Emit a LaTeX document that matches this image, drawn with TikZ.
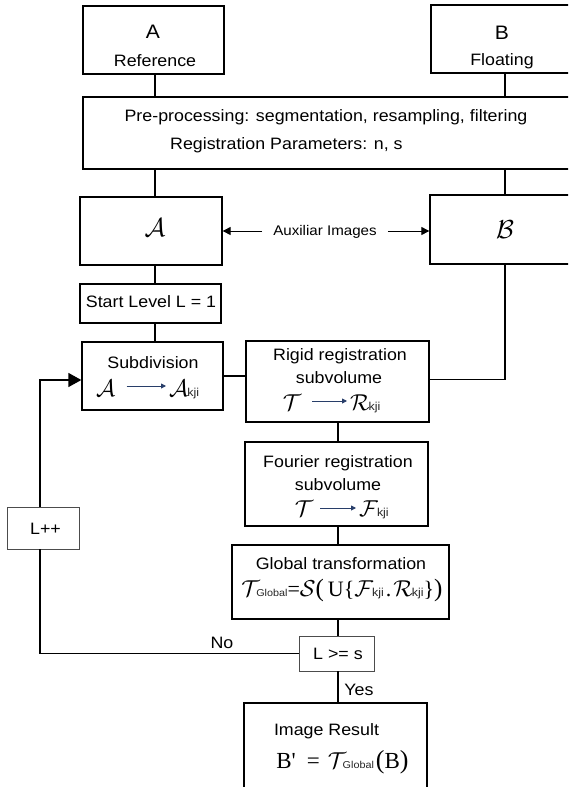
\RequirePackage{fix-cm}
\documentclass[tikz,border=0pt]{standalone}
\usepackage{fontspec}
\setmainfont[FakeStretch=1.08]{Liberation Sans}
\newfontfamily\serif{Liberation Serif}
\usepackage{graphicx}
\usetikzlibrary{arrows.meta}
\definecolor{arrowblue}{RGB}{40,62,105}
\newcommand{\fs}[1]{\fontsize{#1}{#1}\selectfont}
\newcommand{\scrL}[2][24]{{\fs{#1}$\mathcal{#2}$}}
\newcommand{\lowsub}[2][11.5]{\kern-1pt\raisebox{-0.5pt}{\fs{#1}\color{black!85}#2}}
\newcommand{\tms}[2][22]{{\serif\fs{#1}#2}}
\begin{document}
\begin{tikzpicture}[x=1pt,y=-1pt,
  box/.style={draw,line width=1.3pt,inner sep=0pt},
  thinbox/.style={draw=black!70,line width=0.9pt,inner sep=0pt},
  txt/.style={inner sep=0pt,anchor=base,font=\fs{16.5}},
  sym/.style={inner sep=0pt,anchor=base},
  conn/.style={line width=1.3pt},
  barrow/.style={draw=arrowblue,line width=0.9pt,-{Triangle[length=5pt,width=5pt]}},
  auxarrow/.style={line width=1pt,-{Triangle[length=8pt,width=8pt]}}]
\useasboundingbox (0,0) rectangle (568,787);
\fill[white] (0,0) rectangle (568,787);
\clip (0,0) rectangle (568,787);

% x positions of vertical connectors
\coordinate (xa) at (155,0);
\coordinate (xb) at (505,0);
\coordinate (xm) at (338,0);
\coordinate (loopx) at (40,0);

% boxes
\node[box,minimum width=141pt,minimum height=68pt] (boxA) at (153.5,40) {};
\node[box,minimum width=148pt,minimum height=68pt] (boxB) at (505,39) {};
\node[box,minimum width=497pt,minimum height=72pt] (pre) at (331.5,133) {};
\node[box,minimum width=142pt,minimum height=68pt] (cA) at (151,231) {};
\node[box,minimum width=150pt,minimum height=69pt] (cB) at (505,229.5) {};
\node[box,minimum width=141pt,minimum height=39pt] (start) at (150.5,303.5) {};
\node[box,minimum width=141pt,minimum height=68pt] (sub) at (152.5,376) {};
\node[box,minimum width=183pt,minimum height=81pt] (rigid) at (337.5,381.5) {};
\node[box,minimum width=183pt,minimum height=84pt] (four) at (336.5,484) {};
\node[box,minimum width=217pt,minimum height=74pt] (glob) at (340.5,582) {};
\node[thinbox,minimum width=75pt,minimum height=35pt] (cond) at (336.5,653.5) {};
\node[thinbox,minimum width=72pt,minimum height=42pt] (lpp) at (43,528) {};
\node[box,minimum width=183pt,minimum height=97pt] (res) at (335.5,751.5) {};

% texts
\node[txt,font=\fs{19.5}] (tA) at (153,38.5) {A};
\node[txt] (tRef) at (155,66) {Reference};
\node[txt,font=\fs{19.5}] (tB) at (502,39) {B};
\node[txt] (tFl) at (502,65) {Floating};
\node[txt] (tPre1) at (326,121.5) {Pre-processing: segmentation, resampling, filtering};
\node[txt,anchor=base west] (tPre2) at (170,149.5) {Registration Parameters: n, s};
\node[sym] (tcA) at (155,236.5) {\scrL[26]{A}};
\node[sym] (tcB) at (505,238.5) {\scrL[26]{B}};
\node[txt,font=\fs{14},inner xsep=11pt] (aux) at (325,235.5) {Auxiliar Images};
\node[txt] (tStart) at (151,307.7) {Start Level L = 1};
\node[txt] (tSub) at (153,368.3) {Subdivision};
\node[txt] (tRig1) at (340,360.7) {Rigid registration};
\node[txt] (tRig2) at (339,383.3) {subvolume};
\node[txt] (tFou1) at (338,467.7) {Fourier registration};
\node[txt] (tFou2) at (338,490) {subvolume};
\node[txt] (tGlob) at (341,569.3) {Global transformation};
\node[txt] (tL) at (45.5,534.3) {L++};
\node[txt] (tCond) at (338,659.3) {L >= s};
\node[txt] (tNo) at (222,648.3) {No};
\node[txt] (tYes) at (359,695) {Yes};
\node[txt] (tRes) at (326.5,735) {Image Result};

% formulas
\node[sym,anchor=base west] (fS1) at (96,396) {\scrL{A}};
\node[sym,anchor=base west] (fS2) at (169,396) {\scrL{A}\lowsub{kji}};
\draw[barrow,shorten <=11pt,shorten >=3pt] ([yshift=10pt]fS1.base east) -- ([yshift=10pt]fS2.base west);

\node[sym] (fR1) at (292,410) {\scrL[23]{T}};
\node[sym,anchor=base west] (fR2) at (350,410) {\scrL[23]{R}\lowsub{kji}};
\draw[barrow,shorten <=11pt,shorten >=3pt] ([yshift=9pt]fR1.base east) -- ([yshift=9pt]fR2.base west);

\node[sym] (fF1) at (304,516) {\scrL[23]{T}};
\node[sym,anchor=base west] (fF2) at (359,516) {\scrL[23]{F}\lowsub{kji}};
\draw[barrow,shorten <=7pt,shorten >=3pt] ([yshift=8pt]fF1.base east) -- ([yshift=8pt]fF2.base west);

\node[sym] (fG) at (342,596) {\scrL[23]{T}\kern-2.5pt\lowsub[10]{Global}\tms{=}\scrL[23]{S}\tms[25]{(}\hspace{4pt}\tms{U\{}\scrL[23]{F}\lowsub{kji}\hspace{2pt}\tms{.}\hspace{2pt}\scrL[23]{R}\lowsub{kji}\tms{\}}\tms[25]{)}};
\node[sym] (fB) at (342.5,768) {\tms[23]{B'}\hspace{11pt}\tms[23]{=}\hspace{8pt}\scrL[23]{T}\kern-2.5pt\lowsub[10]{Global}\hspace{2pt}\tms[26]{(}\tms[23]{B}\tms[26]{)}};

% connectors
\draw[conn] (boxA.south -| xa) -- (pre.north -| xa);
\draw[conn] (boxB.south -| xb) -- (pre.north -| xb);
\draw[conn] (pre.south -| xa) -- (cA.north -| xa);
\draw[conn] (pre.south -| xb) -- (cB.north -| xb);
\draw[auxarrow] (aux.west |- cA.east) -- (cA.east);
\draw[auxarrow] (aux.east |- cA.east) -- (cB.west |- cA.east);
\draw[conn] (cA.south -| xa) -- (start.north -| xa);
\draw[conn] (start.south -| xa) -- (sub.north -| xa);
\draw[conn] (sub.east) -- (rigid.west |- sub.east);
\draw[conn] (cB.south -| xb) |- ([yshift=2pt]rigid.east);
\draw[conn] (rigid.south -| xm) -- (four.north -| xm);
\draw[conn] (four.south -| xm) -- (glob.north -| xm);
\draw[conn] (glob.south -| xm) -- (cond.north -| xm);
\draw[conn] (cond.south -| xm) -- (res.north -| xm);
\draw[conn] (cond.west) -| (lpp.south -| loopx);
\draw[conn,-{Triangle[length=13pt,width=14pt]}] (lpp.north -| loopx) |- ([yshift=-4pt]sub.west);
\end{tikzpicture}
\end{document}
